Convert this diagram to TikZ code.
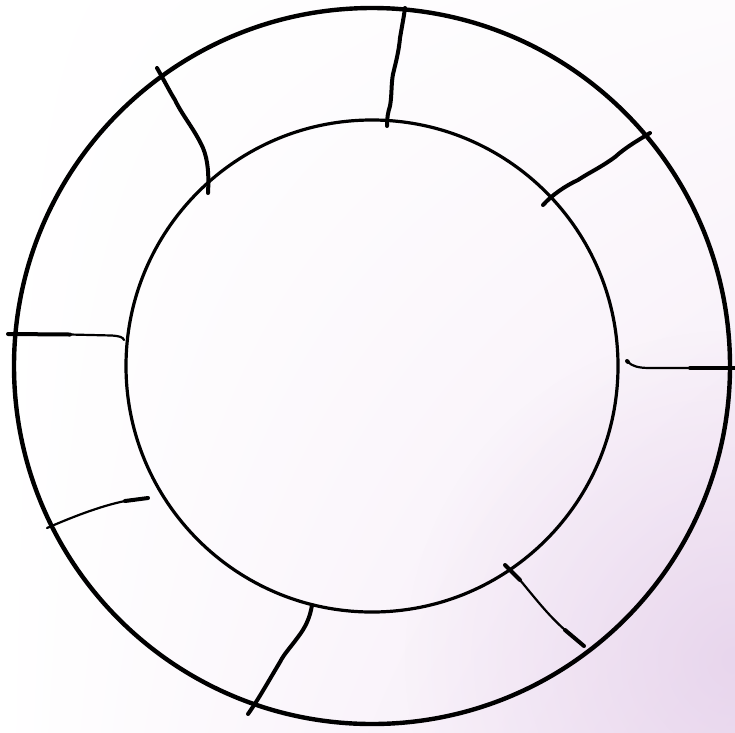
\documentclass[tikz,border=0pt]{standalone}
\usetikzlibrary{shadings,fadings}
\tikzfading[name=softedge, inner color=transparent!0, outer color=transparent!100]
\begin{document}
\begin{tikzpicture}[x=1pt,y=-1pt,
  ring/.style={draw=black,line width=4.4pt},
  inring/.style={draw=black,line width=3.2pt},
  spoke/.style={draw=black,line width=4pt,line cap=round,line join=round},
  thinspoke/.style={draw=black,line width=2.2pt,line cap=round,line join=round}]
\definecolor{lavA}{RGB}{253,251,253}
\definecolor{lavB}{RGB}{244,232,246}
\definecolor{lavC}{RGB}{222,198,229}
\useasboundingbox (0,0) rectangle (735,732);
\shade[upper left=white,upper right=lavA,lower left=white,lower right=lavB] (0,0) rectangle (735,732);
\begin{scope}
\clip (0,0) rectangle (735,732);
\fill[lavC, path fading=softedge, opacity=0.55] (735,660) circle (330);
\end{scope}
\coordinate (c) at (372,366);
% spokes
\draw[spoke] (387,126) .. controls (387,118) and (388,112) .. (390,106) .. controls (392,95) and (391,85) .. (393,74) .. controls (396,62) and (399,50) .. (400,38) .. controls (402,26) and (404,16) .. (405,8);
\draw[spoke] (157,68) .. controls (165,82) and (170,92) .. (175,100) .. controls (182,115) and (195,130) .. (203,148) .. controls (208,160) and (209,175) .. (208,193);
\draw[spoke] (650,133) .. controls (635,142) and (625,148) .. (615,157) .. controls (600,168) and (590,172) .. (578,180) .. controls (565,186) and (552,195) .. (543,205);
\draw[spoke] (8,334) -- (70,334.5);
\draw[thinspoke] (70,334.5) -- (112,335.5) .. controls (119,336) and (123,337) .. (124,340);
\draw[spoke] (627,361) -- (628,362);
\draw[thinspoke] (628,362) .. controls (632,366) and (638,368) .. (650,368) -- (690,368);
\draw[spoke] (690,368) -- (735,368);
\draw[thinspoke] (47,528) .. controls (70,518) and (100,506) .. (125,501);
\draw[spoke] (125,501) -- (148,498);
\draw[spoke] (505,565) -- (520,580);
\draw[thinspoke] (520,580) .. controls (535,598) and (548,615) .. (565,630);
\draw[spoke] (565,630) -- (584,646);
\draw[spoke] (312,605) .. controls (310,618) and (305,628) .. (298,637) .. controls (290,648) and (284,654) .. (280,662) .. controls (268,682) and (258,700) .. (248,714);
% circles
\draw[inring] (c) circle (246);
\draw[ring] (c) circle (358);
\end{tikzpicture}
\end{document}
